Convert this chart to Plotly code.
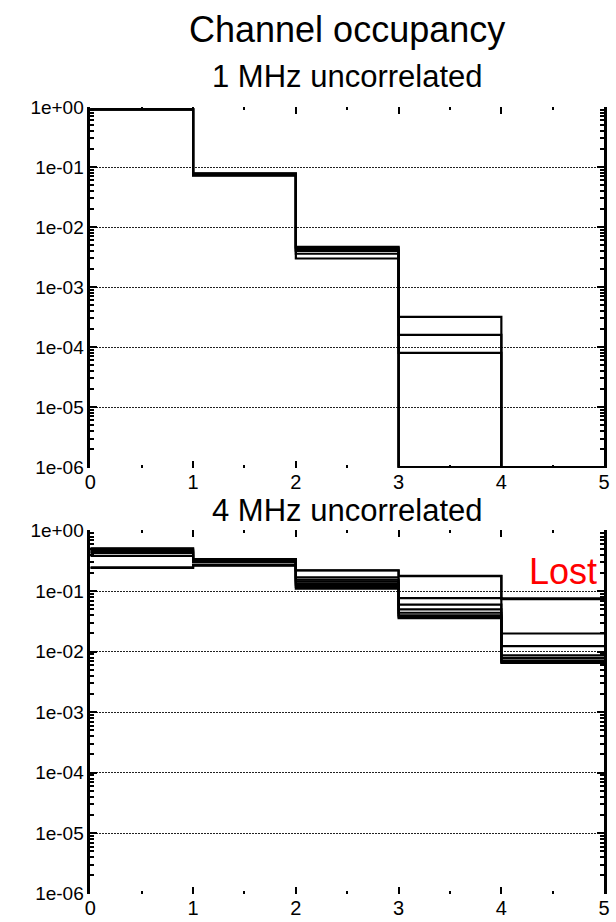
import numpy as np
import plotly.graph_objects as go

# Occupancy histogram: probability that a channel holds 0..4 hits
bin_edges = [0, 1, 2, 3, 4, 5]

# 1 MHz, uncorrelated hits (zero = no entries in that bin)
occ_1mhz = [
    [0.925, 0.0720, 0.0030, 0.0,    0.0],
    [0.923, 0.0735, 0.0036, 8.0e-5, 0.0],
    [0.921, 0.0750, 0.0040, 0.0,    0.0],
    [0.919, 0.0765, 0.0042, 1.6e-4, 0.0],
    [0.917, 0.0780, 0.0045, 0.0,    0.0],
    [0.915, 0.0790, 0.0047, 3.2e-4, 0.0],
]

# 4 MHz, uncorrelated hits
occ_4mhz = [
    [0.51,  0.340, 0.110, 0.036, 0.0065],
    [0.50,  0.340, 0.118, 0.038, 0.0068],
    [0.48,  0.335, 0.126, 0.040, 0.0071],
    [0.46,  0.330, 0.135, 0.044, 0.0078],
    [0.44,  0.320, 0.145, 0.050, 0.0087],
    [0.43,  0.310, 0.155, 0.060, 0.0124],
    [0.385, 0.300, 0.170, 0.077, 0.0200],
    [0.248, 0.270, 0.220, 0.180, 0.0760],
    [0.242, 0.265, 0.222, 0.178, 0.0740],
]

y_tick_vals = [1, 1e-1, 1e-2, 1e-3, 1e-4, 1e-5, 1e-6]
y_tick_text = ["1e+00", "1e-01", "1e-02", "1e-03", "1e-04", "1e-05", "1e-06"]
x_tick_vals = [0, 1, 2, 3, 4, 5]

main_title = "Channel occupancy"
panel_titles = ["1 MHz uncorrelated", "4 MHz uncorrelated"]
lost_label = "Lost"

y_floor = 1e-6  # empty bins are drawn along the bottom of the log axis

W, H = 616, 922
FONT = "Liberation Sans, Arial, sans-serif"

fig = go.Figure()


def add_steps(series, xa, ya):
    for vals in series:
        v = np.asarray(vals, dtype=float)
        v = np.where(v > 0, v, y_floor)
        yv = np.append(v, v[-1])
        fig.add_trace(go.Scatter(
            x=bin_edges, y=yv, mode="lines", line_shape="hv",
            line=dict(color="black", width=2.2),
            xaxis=xa, yaxis=ya, showlegend=False, hoverinfo="skip",
        ))


add_steps(occ_1mhz, "x", "y")
add_steps(occ_4mhz, "x2", "y2")

x_dom = [86 / W, 610 / W]
top_dom = [1 - 468 / H, 1 - 99 / H]
bot_dom = [1 - 904 / H, 1 - 532 / H]

minor_y = [k * 10.0 ** d for d in range(-6, 0) for k in range(2, 10)]
y_range = [np.log10(y_floor) - 0.012, 0.004]


def xaxis_cfg(anchor):
    return dict(
        domain=x_dom, anchor=anchor, range=[0, 5],
        tickmode="array", tickvals=x_tick_vals,
        ticks="inside", ticklen=7, tickwidth=1.5, tickcolor="black",
        mirror="ticks", showline=False, showgrid=False, zeroline=False,
        minor=dict(ticks="inside", ticklen=3, tickwidth=1.5,
                   tickcolor="black", dtick=0.5, showgrid=False),
        tickfont=dict(family=FONT, size=20, color="black"),
        ticklabelstandoff=0,
    )


def yaxis_cfg(anchor, dom):
    return dict(
        domain=dom, anchor=anchor, type="log", range=y_range,
        tickmode="array", tickvals=y_tick_vals, ticktext=y_tick_text,
        ticks="inside", ticklen=7, tickwidth=1.5, tickcolor="black",
        showline=True, linecolor="black", linewidth=2.5, mirror="ticks",
        showgrid=True, gridcolor="#222222", gridwidth=1, griddash="2px,1px",
        zeroline=False,
        minor=dict(ticks="inside", ticklen=4, tickwidth=1.5,
                   tickcolor="black", tickmode="array", tickvals=minor_y,
                   showgrid=False),
        tickfont=dict(family=FONT, size=19, color="black"),
    )


fig.update_layout(
    width=W, height=H,
    margin=dict(l=0, r=0, t=0, b=0),
    paper_bgcolor="white", plot_bgcolor="white",
    xaxis=xaxis_cfg("y"),
    yaxis=yaxis_cfg("x", top_dom),
    xaxis2=xaxis_cfg("y2"),
    yaxis2=yaxis_cfg("x2", bot_dom),
)

cx = (x_dom[0] + x_dom[1]) / 2
fig.add_annotation(text=main_title, x=cx, y=1 - 20 / H, xref="paper", yref="paper",
                   xanchor="center", yanchor="middle", showarrow=False,
                   font=dict(family=FONT, size=36, color="black"))
fig.add_annotation(text=panel_titles[0], x=cx, y=1 - 68 / H, xref="paper", yref="paper",
                   xanchor="center", yanchor="middle", showarrow=False,
                   font=dict(family=FONT, size=31, color="black"))
fig.add_annotation(text=panel_titles[1], x=cx, y=1 - 512 / H, xref="paper", yref="paper",
                   xanchor="center", yanchor="middle", showarrow=False,
                   font=dict(family=FONT, size=31, color="black"))
fig.add_annotation(text=lost_label, x=605 / W, y=1 - 574 / H, xref="paper", yref="paper",
                   xanchor="right", yanchor="middle", showarrow=False,
                   font=dict(family=FONT, size=36, color="red"))

fig.write_html("out.html")
